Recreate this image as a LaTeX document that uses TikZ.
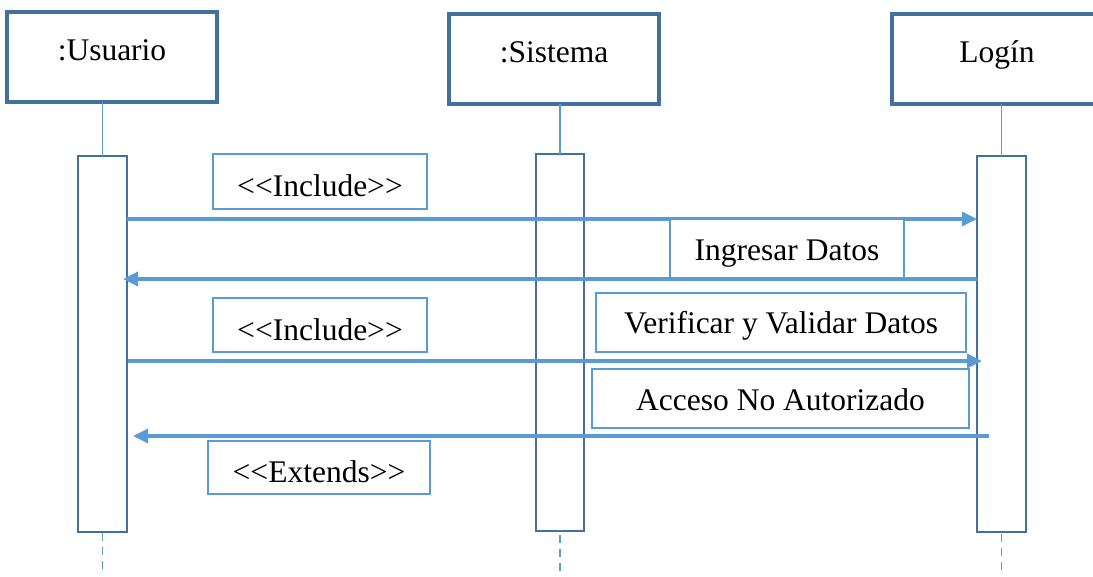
\documentclass[tikz,border=0pt]{standalone}
\usepackage{fontspec}
\setmainfont{Liberation Serif}
\usetikzlibrary{arrows.meta}
\definecolor{frame}{HTML}{41719C}
\definecolor{wire}{HTML}{5B9BD5}

\begin{document}
\begin{tikzpicture}[x=1pt,y=-1pt,
  every node/.style={inner sep=0pt, outer sep=0pt, font=\fontsize{31.5}{38}\selectfont},
  head/.style={draw=frame, line width=3.2pt, fill=white, rectangle,
               minimum width=210pt, minimum height=90pt,
               text height=21pt, text depth=14pt},
  bar/.style={draw=frame, line width=2.8pt, fill=white, rectangle},
  tag/.style={draw=wire, line width=2.4pt, fill=white, rectangle,
              text height=#1, text depth=0pt},
  life/.style={draw=wire, line width=1.6pt},
  lifedash/.style={life, dash pattern=on 8pt off 6pt},
  msg/.style={draw=wire, line width=3.4pt, -{Triangle[length=15pt,width=14pt]}}
]
\useasboundingbox (0,0) rectangle (1093,576);
\clip (0,0) rectangle (1093,576);

% participants
\node[head] (hU) at (112,57)  {:Usuario};
\node[head] (hS) at (554,59)  {:Sistema};
\node[head] (hL) at (997,59)  {Logín};

% activation bars
\node[bar, minimum width=49pt, minimum height=376pt] (bU) at (102.5,344) {};
\node[bar, minimum width=48pt, minimum height=377pt] (bS) at (560,342.5) {};
\node[bar, minimum width=49pt, minimum height=376pt] (bL) at (1001.5,344) {};

% lifelines
\draw[life] (bU.north |- hU.south) -- (bU.north);
\draw[life] (bS.north |- hS.south) -- (bS.north);
\draw[life] (bL.north |- hL.south) -- (bL.north);
\coordinate (eU) at (102.5,575);
\coordinate (eS) at (560,575);
\coordinate (eL) at (1001.5,575);
\draw[lifedash] ([yshift=-1pt]bU.south) -- (eU);
\draw[lifedash] ([yshift=-4pt]bS.south) -- (eS);
\draw[lifedash] ([yshift=-2pt]bL.south) -- (eL);

% message rows
\coordinate (m1) at (0,219);
\coordinate (m2) at (0,279);
\coordinate (m3) at (0,361);
\coordinate (m4) at (0,436);

\draw[msg] (bU.east |- m1) -- (bL.west |- m1);
\draw[msg] (bL.west |- m2) -- ([xshift=-4pt]bU.east |- m2);
\draw[msg] ([xshift=1pt]bU.east |- m3) -- ([xshift=5pt]bL.west |- m3);
\draw[msg] ([xshift=12pt]bL.west |- m4) -- ([xshift=6pt]bU.east |- m4);

% message labels
\node[tag=29pt, minimum width=214pt, minimum height=55pt] (t1) at (320,181.5) {{<}{<}Include{>}{>}};
\node[tag=23pt, minimum width=234pt, minimum height=59pt] (t2) at (787,248.5) {Ingresar Datos};
\node[tag=21pt, minimum width=370pt, minimum height=59pt] (t3) at (781,322.5) {Verificar y Validar Datos};
\node[tag=30pt, minimum width=214pt, minimum height=54pt] (t4) at (320,325) {{<}{<}Include{>}{>}};
\node[tag=23pt, minimum width=377pt, minimum height=59pt] (t5) at (780.5,398.5) {Acceso No Autorizado};
\node[tag=29pt, minimum width=222pt, minimum height=53pt] (t6) at (319,467.5) {{<}{<}Extends{>}{>}};
\end{tikzpicture}
\end{document}
